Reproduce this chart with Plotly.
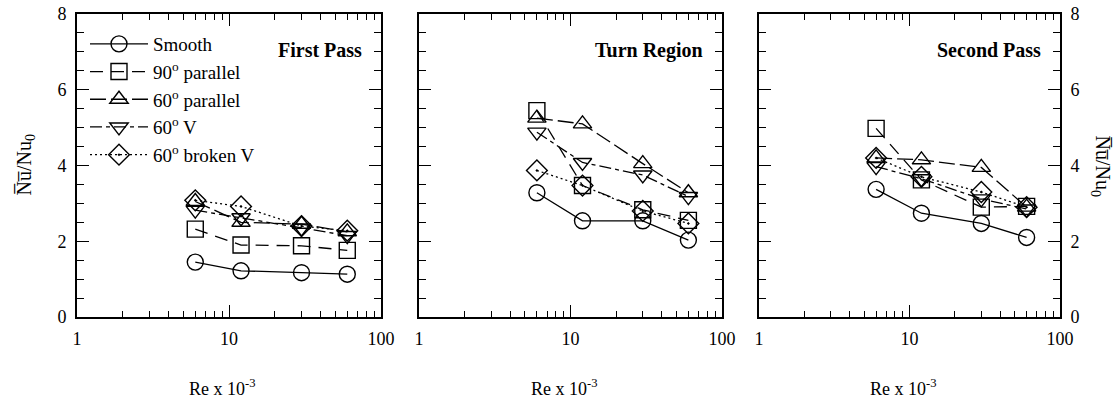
import plotly.graph_objects as go

# Reynolds number (x 10^-3)
re = [6, 12, 30, 60]

series_names = ["Smooth", "90<sup>o</sup> parallel", "60<sup>o</sup> parallel",
                "60<sup>o</sup> V", "60<sup>o</sup> broken V"]

# First pass
fp_smooth = [1.45, 1.22, 1.17, 1.13]
fp_90par = [2.32, 1.90, 1.88, 1.76]
fp_60par = [3.05, 2.50, 2.45, 2.25]
fp_60v = [2.82, 2.62, 2.35, 2.15]
fp_60bv = [3.08, 2.92, 2.40, 2.28]

# Turn region
tr_smooth = [3.28, 2.54, 2.54, 2.03]
tr_90par = [5.45, 3.47, 2.83, 2.55]
tr_60par = [5.25, 5.10, 4.05, 3.28]
tr_60v = [4.88, 4.08, 3.75, 3.18]
tr_60bv = [3.87, 3.47, 2.80, 2.47]

# Second pass
sp_smooth = [3.37, 2.74, 2.47, 2.10]
sp_90par = [4.98, 3.62, 2.90, 2.92]
sp_60par = [4.20, 4.15, 3.95, 2.90]
sp_60v = [3.97, 3.65, 3.12, 2.85]
sp_60bv = [4.20, 3.70, 3.30, 2.90]

panel_titles = ["First Pass", "Turn Region", "Second Pass"]
x_ticks = [1, 10, 100]
y_ticks = [0, 2, 4, 6, 8]

panels = [
    [fp_smooth, fp_90par, fp_60par, fp_60v, fp_60bv],
    [tr_smooth, tr_90par, tr_60par, tr_60v, tr_60bv],
    [sp_smooth, sp_90par, sp_60par, sp_60v, sp_60bv],
]

symbols = ["circle-open", "square-open", "triangle-up-open", "triangle-down-open", "diamond-open-dot"]
dashes = ["solid", "13px,8px", "16px,5px", "12px,4px,4px,4px", "2px,3px"]

SERIF = "Liberation Serif, Times New Roman, DejaVu Serif, serif"

# body margin is removed by the post script, so the figure fills the page
OFF = 0
W, H = 1118 - OFF, 399 - OFF
PL, PR, PT, PB = 77, 1060, 14, 317          # plot area in page pixels
ml, mr, mt, mb = PL - OFF, W - (PR - OFF), PT - OFF, H - (PB - OFF)
pw = PR - PL
ph = PB - PT

def px2dom(a, b):
    return [(a - PL) / pw, (b - PL) / pw]

def pxx(x):
    return (x - PL) / pw

def pxy(y):
    return (PB - y) / ph

domains = [px2dom(77, 381), px2dom(419, 722), px2dom(759, 1060)]

fig = go.Figure()
for pi, data in enumerate(panels):
    for si, vals in enumerate(data):
        fig.add_trace(go.Scatter(
            x=re, y=vals, mode="lines+markers",
            name=series_names[si],
            showlegend=(pi == 0),
            legendgroup=str(si),
            line=dict(color="black", width=1.3, dash=dashes[si]),
            marker=dict(symbol=symbols[si], size=16, color="black",
                        line=dict(color="black", width=1.4)),
            xaxis="x" if pi == 0 else f"x{pi+1}",
            yaxis="y" if pi == 0 else f"y{pi+1}",
        ))

axis_common = dict(showline=True, linecolor="black", linewidth=1.6, mirror="allticks",
                   ticks="inside", tickcolor="black", tickwidth=1.3, showgrid=False,
                   zeroline=False, automargin=False, ticklabeloverflow="allow")

layout = dict(
    width=W, height=H,
    margin=dict(l=ml, r=mr, t=mt, b=mb, pad=0),
    paper_bgcolor="white", plot_bgcolor="white",
    font=dict(family=SERIF, color="black", size=17),
    legend=dict(x=pxx(85), y=pxy(25), xanchor="left", yanchor="top",
                bgcolor="rgba(0,0,0,0)", borderwidth=0,
                font=dict(family=SERIF, size=19, color="black"),
                itemwidth=58, tracegroupgap=0),
    annotations=[],
)

for i in range(3):
    xa = "xaxis" if i == 0 else f"xaxis{i+1}"
    ya = "yaxis" if i == 0 else f"yaxis{i+1}"
    xref = "x" if i == 0 else f"x{i+1}"
    layout[xa] = dict(axis_common, type="log", range=[0, 2], domain=domains[i],
                      tickvals=x_ticks, ticktext=[str(v) for v in x_ticks], ticklen=12,
                      tickfont=dict(family=SERIF, size=18), ticklabelstandoff=5,
                      minor=dict(ticks="inside", ticklen=6, tickcolor="black", tickwidth=1.2,
                                 dtick="D1", showgrid=False),
                      anchor="y" if i == 0 else f"y{i+1}")
    layout[ya] = dict(axis_common, range=[0, 8], domain=[0, 1], tickvals=y_ticks,
                      ticklen=12, tickfont=dict(family=SERIF, size=18), ticklabelstandoff=5,
                      minor=dict(ticks="inside", ticklen=7, tickcolor="black", tickwidth=1.2,
                                 dtick=0.5, showgrid=False),
                      anchor="x" if i == 0 else f"x{i+1}",
                      showticklabels=(i != 1),
                      side="right" if i == 2 else "left")
    layout["annotations"].append(dict(
        text=f"<b>{panel_titles[i]}</b>", xref=xref + " domain",
        yref="y domain", x=0.945, y=pxy(50), xanchor="right", yanchor="middle",
        showarrow=False, font=dict(family=SERIF, size=20, color="black")))
    layout["annotations"].append(dict(
        text="Re x 10<sup>-3</sup>", xref=xref + " domain", yref="paper",
        x=0.48, y=pxy(387), xanchor="center", yanchor="middle",
        showarrow=False, font=dict(family=SERIF, size=18, color="black")))

ytitle = "N\u0305u\u0305/Nu<sub>0</sub>"
layout["annotations"].append(dict(text=ytitle, xref="paper", yref="paper",
                                  x=pxx(25), y=0.5, xanchor="center", yanchor="middle",
                                  textangle=-90, showarrow=False,
                                  font=dict(family=SERIF, size=20, color="black")))
layout["annotations"].append(dict(text=ytitle, xref="paper", yref="paper",
                                  x=pxx(1101), y=0.5, xanchor="center", yanchor="middle",
                                  textangle=90, showarrow=False,
                                  font=dict(family=SERIF, size=20, color="black")))

fig.update_layout(**layout)
fig.write_html("out.html", config={"displayModeBar": False},
               post_script="document.body.style.margin='0px';document.body.style.overflow='hidden';")
